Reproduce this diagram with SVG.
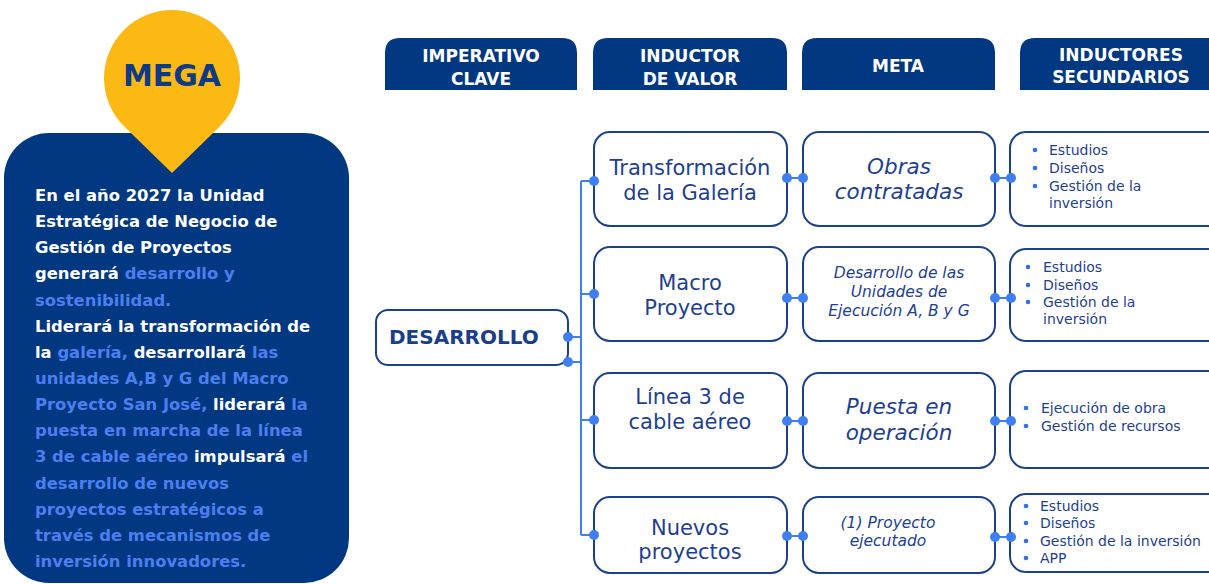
<svg xmlns="http://www.w3.org/2000/svg" width="1209" height="584" viewBox="0 0 1209 584">
<defs>
<style>
.hdr{fill:#023781}
.ht{font-family:"DejaVu Sans",sans-serif;font-weight:bold;font-size:17px;fill:#ffffff;text-anchor:middle}
.para{font-family:"DejaVu Sans",sans-serif;font-weight:bold;font-size:16.4px;fill:#ffffff}
.hl{fill:#4b7ff0}
.node{fill:#ffffff;stroke:#1b4289;stroke-width:2}
.t2{font-family:"DejaVu Sans",sans-serif;font-size:21px;fill:#1e3f8f;text-anchor:middle}
.t3{font-family:"DejaVu Sans",sans-serif;font-style:italic;font-size:21.5px;fill:#1e3f8f;text-anchor:middle}
.t3s{font-family:"DejaVu Sans",sans-serif;font-style:italic;font-size:15.5px;fill:#1e3f8f;text-anchor:middle}
.t4{font-family:"DejaVu Sans",sans-serif;font-size:14px;fill:#1e3f8f}
.bul{fill:#2f6fe8}
.con{stroke:#3f7ff2;stroke-width:2;fill:none}
.dot{fill:#3f7ff2}
</style>
</defs>
<rect width="1209" height="584" fill="#ffffff"/>

<g id="mega-box">
<rect x="4" y="133" width="345" height="450" rx="45" fill="#023781"/>
<text class="para">
<tspan x="35" y="201">En el año 2027 la Unidad</tspan>
<tspan x="35" y="227">Estratégica de Negocio de</tspan>
<tspan x="35" y="253">Gestión de Proyectos</tspan>
<tspan x="35" y="279">generará <tspan class="hl">desarrollo y</tspan></tspan>
<tspan x="35" y="306" class="hl">sostenibilidad.</tspan>
<tspan x="35" y="332">Liderará la transformación de</tspan>
<tspan x="35" y="358">la <tspan class="hl">galería,</tspan> desarrollará <tspan class="hl">las</tspan></tspan>
<tspan x="35" y="384" class="hl">unidades A,B y G del Macro</tspan>
<tspan x="35" y="410"><tspan class="hl">Proyecto San José,</tspan> liderará <tspan class="hl">la</tspan></tspan>
<tspan x="35" y="436" class="hl">puesta en marcha de la línea</tspan>
<tspan x="35" y="462"><tspan class="hl">3 de cable aéreo</tspan> impulsará <tspan class="hl">el</tspan></tspan>
<tspan x="35" y="489" class="hl">desarrollo de nuevos</tspan>
<tspan x="35" y="515" class="hl">proyectos estratégicos a</tspan>
<tspan x="35" y="541" class="hl">través de mecanismos de</tspan>
<tspan x="35" y="567" class="hl">inversión innovadores.</tspan>
</text>
</g>

<g id="mega-pin">
<path d="M124.5 126.7 A68 68 0 1 1 219.5 126.7 L172 173 Z" fill="#fdb913"/>
<text x="172" y="86" text-anchor="middle" font-family="DejaVu Sans, sans-serif" font-weight="bold" font-size="30" fill="#0f3a85">MEGA</text>
</g>

<g id="headers">
<g id="h-imperativo">
<path class="hdr" d="M385 90 V53 Q385 38 400 38 H562 Q577 38 577 53 V90 Z"/>
<text class="ht" x="481" y="62">IMPERATIVO</text>
<text class="ht" x="481" y="85">CLAVE</text>
</g>
<g id="h-inductor">
<path class="hdr" d="M593 90 V53 Q593 38 608 38 H772 Q787 38 787 53 V90 Z"/>
<text class="ht" x="690" y="62">INDUCTOR</text>
<text class="ht" x="690" y="85">DE VALOR</text>
</g>
<g id="h-meta">
<path class="hdr" d="M802 90 V53 Q802 38 817 38 H980 Q995 38 995 53 V90 Z"/>
<text class="ht" x="898" y="72">META</text>
</g>
<g id="h-secundarios">
<path class="hdr" d="M1020 90 V53 Q1020 38 1035 38 H1215 Q1230 38 1230 53 V90 Z"/>
<text class="ht" x="1121" y="61">INDUCTORES</text>
<text class="ht" x="1121" y="83">SECUNDARIOS</text>
</g>
</g>

<g id="connectors">
<path class="con" d="M568 337 H581 M568 362 H581 M581 181 V535 M581 181 H594 M581 294 H594 M581 420 H594 M581 535 H594"/>
<path class="con" d="M787 178 H803 M787 298 H803 M787 421 H803 M787 536 H803"/>
<path class="con" d="M995 178 H1011 M995 298 H1011 M995 421 H1011 M995 537 H1011"/>
</g>

<g id="desarrollo">
<rect class="node" x="376" y="310" width="192" height="55" rx="12"/>
<text x="389" y="344" font-family="DejaVu Sans, sans-serif" font-weight="bold" font-size="20" fill="#1a3f8a">DESARROLLO</text>
</g>

<g id="ind-galeria">
<rect class="node" x="594" y="132" width="193" height="94" rx="16"/>
<text class="t2" x="690" y="175">Transformación</text>
<text class="t2" x="690" y="200">de la Galería</text>
</g>
<g id="ind-macro">
<rect class="node" x="594" y="247" width="193" height="94" rx="16"/>
<text class="t2" x="690" y="290">Macro</text>
<text class="t2" x="690" y="315">Proyecto</text>
</g>
<g id="ind-linea3">
<rect class="node" x="594" y="373" width="193" height="95" rx="16"/>
<text class="t2" x="690" y="404">Línea 3 de</text>
<text class="t2" x="690" y="429">cable aéreo</text>
</g>
<g id="ind-nuevos">
<rect class="node" x="594" y="497" width="193" height="76" rx="16"/>
<text class="t2" x="690" y="535">Nuevos</text>
<text class="t2" x="690" y="559">proyectos</text>
</g>

<g id="meta-obras">
<rect class="node" x="803" y="132" width="192" height="94" rx="16"/>
<text class="t3" x="899" y="174">Obras</text>
<text class="t3" x="899" y="199">contratadas</text>
</g>
<g id="meta-unidades">
<rect class="node" x="803" y="247" width="192" height="94" rx="16"/>
<text class="t3s" x="899" y="278">Desarrollo de las</text>
<text class="t3s" x="899" y="297">Unidades de</text>
<text class="t3s" x="899" y="316">Ejecución A, B y G</text>
</g>
<g id="meta-puesta">
<rect class="node" x="803" y="373" width="192" height="95" rx="16"/>
<text class="t3" x="899" y="414">Puesta en</text>
<text class="t3" x="899" y="440">operación</text>
</g>
<g id="meta-proyecto">
<rect class="node" x="803" y="497" width="192" height="76" rx="16"/>
<text class="t3s" x="888" y="528" font-size="14.5">(1) Proyecto</text>
<text class="t3s" x="888" y="546" font-size="14.5">ejecutado</text>
</g>

<g id="sec-1">
<rect class="node" x="1010" y="132" width="230" height="94" rx="16"/>
<circle class="bul" cx="1035" cy="150" r="2.3"/><text class="t4" x="1049" y="155">Estudios</text>
<circle class="bul" cx="1035" cy="168" r="2.3"/><text class="t4" x="1049" y="173">Diseños</text>
<circle class="bul" cx="1035" cy="186" r="2.3"/><text class="t4" x="1049" y="191">Gestión de la</text>
<text class="t4" x="1049" y="208">inversión</text>
</g>
<g id="sec-2">
<rect class="node" x="1010" y="249" width="230" height="92" rx="16"/>
<circle class="bul" cx="1028" cy="267" r="2.3"/><text class="t4" x="1043" y="272">Estudios</text>
<circle class="bul" cx="1028" cy="285" r="2.3"/><text class="t4" x="1043" y="290">Diseños</text>
<circle class="bul" cx="1028" cy="302" r="2.3"/><text class="t4" x="1043" y="307">Gestión de la</text>
<text class="t4" x="1043" y="324">inversión</text>
</g>
<g id="sec-3">
<rect class="node" x="1010" y="371" width="230" height="97" rx="16"/>
<circle class="bul" cx="1026" cy="408" r="2.3"/><text class="t4" x="1041" y="413">Ejecución de obra</text>
<circle class="bul" cx="1026" cy="426" r="2.3"/><text class="t4" x="1041" y="431">Gestión de recursos</text>
</g>
<g id="sec-4">
<rect class="node" x="1010" y="494" width="230" height="78" rx="16"/>
<circle class="bul" cx="1026" cy="506" r="2.3"/><text class="t4" x="1040" y="511">Estudios</text>
<circle class="bul" cx="1026" cy="523" r="2.3"/><text class="t4" x="1040" y="528">Diseños</text>
<circle class="bul" cx="1026" cy="541" r="2.3"/><text class="t4" x="1040" y="546">Gestión de la inversión</text>
<circle class="bul" cx="1026" cy="558" r="2.3"/><text class="t4" x="1040" y="563">APP</text>
</g>

<g id="dots">
<circle class="dot" cx="568" cy="337" r="5"/>
<circle class="dot" cx="568" cy="362" r="5"/>
<circle class="dot" cx="594" cy="181" r="5"/>
<circle class="dot" cx="594" cy="294" r="5"/>
<circle class="dot" cx="594" cy="420" r="5"/>
<circle class="dot" cx="594" cy="535" r="5"/>
<circle class="dot" cx="787" cy="178" r="5"/>
<circle class="dot" cx="787" cy="298" r="5"/>
<circle class="dot" cx="787" cy="421" r="5"/>
<circle class="dot" cx="787" cy="536" r="5"/>
<circle class="dot" cx="803" cy="178" r="5"/>
<circle class="dot" cx="803" cy="298" r="5"/>
<circle class="dot" cx="803" cy="421" r="5"/>
<circle class="dot" cx="803" cy="536" r="5"/>
<circle class="dot" cx="995" cy="178" r="5"/>
<circle class="dot" cx="995" cy="298" r="5"/>
<circle class="dot" cx="995" cy="421" r="5"/>
<circle class="dot" cx="995" cy="537" r="5"/>
<circle class="dot" cx="1011" cy="178" r="5"/>
<circle class="dot" cx="1011" cy="298" r="5"/>
<circle class="dot" cx="1011" cy="421" r="5"/>
<circle class="dot" cx="1011" cy="537" r="5"/>
</g>
</svg>
